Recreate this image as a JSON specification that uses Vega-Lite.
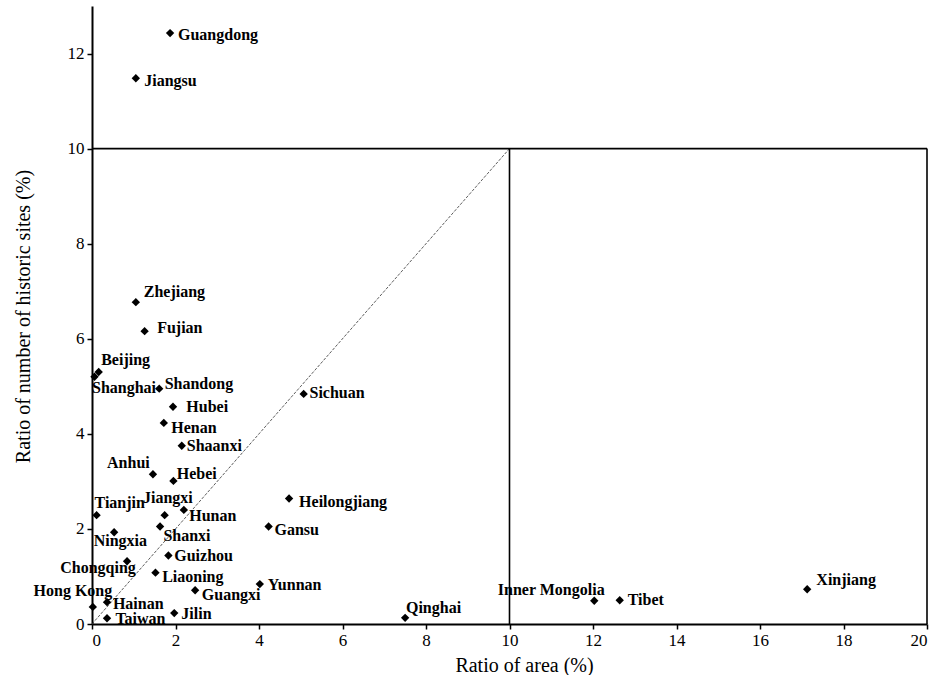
{
  "$schema": "https://vega.github.io/schema/vega-lite/v6.json",
  "autosize": "none",
  "width": 835,
  "height": 618,
  "padding": {"left": 92, "top": 6, "right": 8, "bottom": 51},
  "background": "white",
  "config": {
    "font": "Liberation Serif",
    "view": {"stroke": null},
    "axis": {
      "grid": false,
      "domainColor": "black",
      "domainWidth": 2,
      "tickColor": "black",
      "tickWidth": 1.5,
      "tickSize": 5,
      "labelFont": "Liberation Serif",
      "labelFontSize": 17,
      "labelColor": "black",
      "labelPadding": 3,
      "titleFont": "Liberation Serif",
      "titleFontSize": 20,
      "titleFontWeight": "normal",
      "titleColor": "black"
    }
  },
  "datasets": {
    "pts": [
      {"name": "Guangdong", "area": 1.87, "sites": 12.43, "lx": 2.06, "ly": 12.39},
      {"name": "Jiangsu", "area": 1.05, "sites": 11.48, "lx": 1.25, "ly": 11.42},
      {"name": "Zhejiang", "area": 1.05, "sites": 6.77, "lx": 1.24, "ly": 6.99},
      {"name": "Fujian", "area": 1.26, "sites": 6.16, "lx": 1.56, "ly": 6.23},
      {"name": "Beijing", "area": 0.16, "sites": 5.30, "lx": 0.22, "ly": 5.55},
      {"name": "Shanghai", "area": 0.06, "sites": 5.20, "lx": 0.0, "ly": 4.96},
      {"name": "Shandong", "area": 1.61, "sites": 4.95, "lx": 1.74, "ly": 5.04},
      {"name": "Hubei", "area": 1.94, "sites": 4.57, "lx": 2.26, "ly": 4.57},
      {"name": "Henan", "area": 1.72, "sites": 4.23, "lx": 1.90, "ly": 4.13},
      {"name": "Shaanxi", "area": 2.15, "sites": 3.75, "lx": 2.27, "ly": 3.75},
      {"name": "Anhui", "area": 1.46, "sites": 3.15, "lx": 0.36, "ly": 3.38},
      {"name": "Hebei", "area": 1.95, "sites": 3.01, "lx": 2.03, "ly": 3.16},
      {"name": "Tianjin", "area": 0.11, "sites": 2.29, "lx": 0.06, "ly": 2.54},
      {"name": "Jiangxi", "area": 1.74, "sites": 2.29, "lx": 1.22, "ly": 2.65},
      {"name": "Hunan", "area": 2.20, "sites": 2.40, "lx": 2.33, "ly": 2.28},
      {"name": "Shanxi", "area": 1.63, "sites": 2.05, "lx": 1.71, "ly": 1.85},
      {"name": "Ningxia", "area": 0.53, "sites": 1.93, "lx": 0.04, "ly": 1.74},
      {"name": "Chongqing", "area": 0.84, "sites": 1.32, "lx": -0.76, "ly": 1.18},
      {"name": "Guizhou", "area": 1.83, "sites": 1.44, "lx": 1.97, "ly": 1.42},
      {"name": "Liaoning", "area": 1.52, "sites": 1.08, "lx": 1.68, "ly": 0.99},
      {"name": "Guangxi", "area": 2.47, "sites": 0.71, "lx": 2.63, "ly": 0.60},
      {"name": "Yunnan", "area": 4.02, "sites": 0.84, "lx": 4.21, "ly": 0.83},
      {"name": "Hong Kong", "area": 0.02, "sites": 0.36, "lx": -1.40, "ly": 0.69},
      {"name": "Hainan", "area": 0.36, "sites": 0.46, "lx": 0.50, "ly": 0.43},
      {"name": "Taiwan", "area": 0.36, "sites": 0.12, "lx": 0.56, "ly": 0.10},
      {"name": "Jilin", "area": 1.97, "sites": 0.23, "lx": 2.14, "ly": 0.21},
      {"name": "Sichuan", "area": 5.07, "sites": 4.84, "lx": 5.21, "ly": 4.86},
      {"name": "Heilongjiang", "area": 4.72, "sites": 2.64, "lx": 4.96, "ly": 2.56},
      {"name": "Gansu", "area": 4.23, "sites": 2.05, "lx": 4.37, "ly": 1.97},
      {"name": "Qinghai", "area": 7.50, "sites": 0.13, "lx": 7.52, "ly": 0.34},
      {"name": "Inner Mongolia", "area": 12.03, "sites": 0.49, "lx": 9.72, "ly": 0.72},
      {"name": "Tibet", "area": 12.64, "sites": 0.50, "lx": 12.83, "ly": 0.50},
      {"name": "Xinjiang", "area": 17.13, "sites": 0.73, "lx": 17.35, "ly": 0.93}
    ],
    "box": [
      {"x": 0, "y": 10, "x2": 20, "y2": 10},
      {"x": 10, "y": 0, "x2": 10, "y2": 10},
      {"x": 20, "y": 0, "x2": 20, "y2": 10}
    ],
    "diag": [
      {"x": 0, "y": 0, "x2": 10, "y2": 10}
    ]
  },
  "layer": [
    {
      "data": {"name": "diag"},
      "mark": {"type": "rule", "color": "#333333", "strokeWidth": 0.8, "strokeDash": [3, 1.5]},
      "encoding": {
        "x": {"field": "x", "type": "quantitative", "scale": {"domain": [0, 20], "nice": false}},
        "y": {"field": "y", "type": "quantitative", "scale": {"domain": [0, 13], "nice": false}},
        "x2": {"field": "x2"},
        "y2": {"field": "y2"}
      }
    },
    {
      "data": {"name": "box"},
      "mark": {"type": "rule", "color": "black", "strokeWidth": 1.6},
      "encoding": {
        "x": {"field": "x", "type": "quantitative"},
        "y": {"field": "y", "type": "quantitative"},
        "x2": {"field": "x2"},
        "y2": {"field": "y2"}
      }
    },
    {
      "data": {"name": "pts"},
      "mark": {"type": "point", "shape": "diamond", "filled": true, "color": "black", "size": 70, "opacity": 1},
      "encoding": {
        "x": {"field": "area", "type": "quantitative", "title": "Ratio of area (%)",
              "axis": {"values": [0, 2, 4, 6, 8, 10, 12, 14, 16, 18, 20], "titleX": 432, "titleY": 47, "titleBaseline": "alphabetic", "titleAnchor": "start", "titleAlign": "center", "labelFont": "Liberation Serif", "titleFont": "Liberation Serif"}},
        "y": {"field": "sites", "type": "quantitative", "title": "Ratio of number of historic sites (%)",
              "axis": {"values": [0, 2, 4, 6, 8, 10, 12], "titleX": -63, "titleY": 310, "titleBaseline": "alphabetic", "titleAlign": "center", "labelFont": "Liberation Serif", "titleFont": "Liberation Serif"}}
      }
    },
    {
      "data": {"name": "pts"},
      "mark": {"type": "text", "align": "left", "baseline": "middle", "font": "Liberation Serif", "fontSize": 16, "fontWeight": "bold", "color": "black"},
      "encoding": {
        "x": {"field": "lx", "type": "quantitative"},
        "y": {"field": "ly", "type": "quantitative"},
        "text": {"field": "name"}
      }
    }
  ]
}
